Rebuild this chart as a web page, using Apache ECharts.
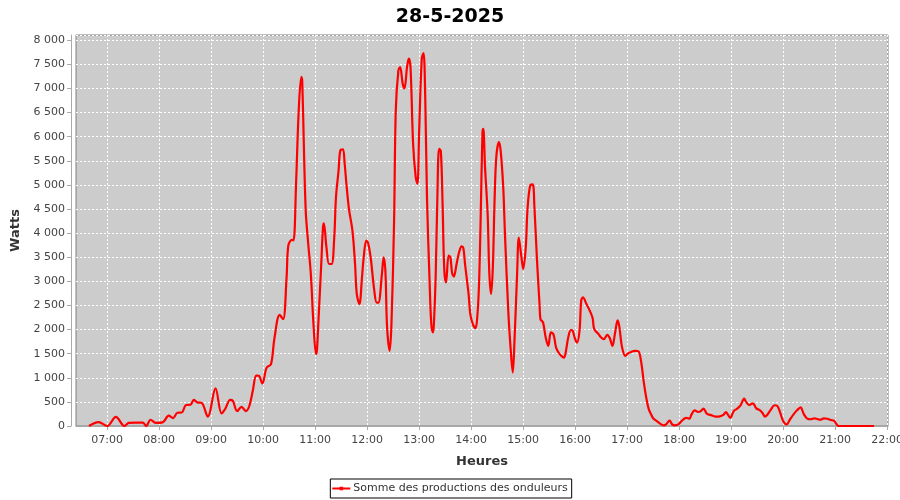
<!DOCTYPE html>
<html>
<head>
<meta charset="utf-8">
<script src="https://cdn.jsdelivr.net/npm/echarts@6/dist/echarts.min.js"></script>
<style>
html,body{margin:0;padding:0;background:#fff;}
#c{width:900px;height:500px;}
</style>
</head>
<body>
<div id="c"></div>
<script>
const title = "28-5-2025";
const seriesName = "Somme des productions des onduleurs";
const times = ["06:39","06:50","07:00","07:10","07:20","07:25","07:33","07:41","07:45","07:50","07:56","08:04","08:11","08:16","08:21","08:26","08:31","08:36","08:40","08:44","08:49","08:56","09:05","09:12","09:16","09:22","09:25","09:30","09:35","09:40","09:44","09:48","09:52","09:55","09:59","10:04","10:09","10:13","10:19","10:23","10:27","10:29","10:33","10:35","10:38","10:41","10:44","10:45","10:49","10:52","10:55","10:58","11:01","11:02","11:04","11:07","11:09","11:10","11:13","11:16","11:19","11:22","11:24","11:27","11:29","11:32","11:34","11:36","11:39","11:43","11:46","11:48","11:51","11:54","11:56","11:59","12:01","12:04","12:08","12:11","12:13","12:17","12:19","12:21","12:23","12:26","12:28","12:31","12:33","12:36","12:38","12:41","12:43","12:46","12:48","12:50","12:53","12:56","12:58","13:00","13:03","13:05","13:07","13:09","13:12","13:14","13:16","13:17","13:19","13:21","13:23","13:25","13:27","13:29","13:31","13:34","13:36","13:38","13:40","13:43","13:46","13:49","13:51","13:53","13:57","13:59","14:02","14:05","14:07","14:09","14:11","14:13","14:14","14:16","14:19","14:21","14:23","14:25","14:27","14:29","14:32","14:34","14:37","14:39","14:43","14:46","14:48","14:50","14:53","14:55","14:58","15:00","15:03","15:05","15:08","15:11","15:13","15:16","15:19","15:20","15:23","15:26","15:29","15:32","15:35","15:38","15:41","15:44","15:47","15:49","15:52","15:55","15:57","16:00","16:02","16:05","16:07","16:09","16:13","16:16","16:20","16:22","16:27","16:30","16:33","16:37","16:40","16:43","16:46","16:49","16:51","16:54","16:58","17:01","17:05","17:09","17:13","17:16","17:19","17:22","17:25","17:28","17:30","17:34","17:38","17:42","17:45","17:49","17:52","17:55","17:59","18:03","18:08","18:12","18:14","18:18","18:22","18:25","18:28","18:32","18:36","18:42","18:47","18:51","18:54","18:56","18:59","19:03","19:07","19:11","19:15","19:17","19:21","19:25","19:29","19:33","19:36","19:39","19:42","19:46","19:50","19:53","19:56","20:00","20:04","20:08","20:12","20:16","20:20","20:24","20:28","20:32","20:36","20:40","20:43","20:47","20:51","20:55","20:59","21:01","21:04","21:15","21:25","21:35","21:45"];
const watts = [0,80,0,190,0,65,70,70,0,130,65,75,215,165,275,280,435,440,540,490,480,195,780,260,350,540,520,310,395,310,415,730,1045,1040,880,1210,1280,1820,2305,2215,3080,3740,3860,3850,5055,6545,7240,7170,4500,3775,3150,2120,1490,1560,2260,3360,4120,4205,3705,3360,3360,3910,4745,5300,5715,5740,5450,5030,4500,4050,3360,2740,2530,3080,3500,3845,3800,3500,2840,2560,2560,3150,3500,3220,2040,1560,2110,4210,6545,7375,7445,7100,7000,7445,7620,7445,5855,5160,5020,6130,7620,7735,6820,4745,3010,2110,1940,2110,3080,4745,5750,5700,4610,3220,2980,3535,3500,3170,3100,3345,3600,3725,3690,3345,2740,2320,2110,2030,2250,2910,4330,6075,6165,5370,4400,3150,2740,3290,4675,5580,5890,5715,4950,3980,2320,1490,1110,1770,3150,3910,3500,3255,3705,4490,4985,5010,4535,3430,2495,2215,2145,1835,1660,1940,1900,1625,1520,1455,1420,1520,1835,1990,1980,1800,1730,1970,2600,2670,2530,2425,2250,2010,1905,1835,1800,1890,1820,1660,1925,2190,2060,1645,1455,1505,1540,1560,1550,1350,935,590,345,230,160,105,50,15,35,110,35,15,35,105,170,150,230,325,290,310,360,255,230,195,200,230,290,240,170,310,360,435,570,505,435,470,365,330,275,195,240,345,430,420,310,105,35,140,240,325,385,240,150,140,160,140,130,160,150,125,105,50,0,0,0,0,0];
const xTickLabels = ["07:00","08:00","09:00","10:00","11:00","12:00","13:00","14:00","15:00","16:00","17:00","18:00","19:00","20:00","21:00","22:00"];
const xAxisName = "Heures";
const yAxisName = "Watts";

function toMin(s){const p=s.split(':');return (+p[0])*60+(+p[1]);}
function fmtMin(m){const h=Math.floor(m/60),mm=Math.round(m%60);return (h<10?'0':'')+h+':'+(mm<10?'0':'')+mm;}
const data = times.map((t,i)=>[toMin(t), watts[i]]);
const tickVals = xTickLabels.map(toMin);

const chart = echarts.init(document.getElementById('c'), null, {renderer:'canvas'});
chart.setOption({
  animation:false,
  backgroundColor:'#ffffff',
  textStyle:{fontFamily:'DejaVu Sans'},
  title:{text:title,left:'center',top:3,textStyle:{fontSize:19,fontWeight:'bold',color:'#000',fontFamily:'DejaVu Sans'}},
  legend:{
    data:[{name:seriesName,icon:'path://M0,0h0.01v10h-0.01z M0,4h20v2h-20z M8,3h4v4h-4z'}],
    bottom:2, left:'center',
    borderColor:'#000', borderWidth:1, padding:[4,4,4,2],
    itemWidth:18, itemHeight:10, itemGap:2,
    textStyle:{fontSize:11,color:'#333',fontFamily:'DejaVu Sans',padding:[0,0,0,-2]}
  },
  grid:{left:76,right:12,top:35,bottom:74,show:true,backgroundColor:'#cccccc',borderColor:'#808080',borderWidth:1,outerBoundsMode:'none',containLabel:false},
  xAxis:{
    type:'value', min:384, max:1321,
    offset:4,
    name:xAxisName, nameLocation:'middle', nameGap:25,
    nameTextStyle:{fontSize:13,fontWeight:'bold',color:'#333',fontFamily:'DejaVu Sans'},
    axisLine:{show:true,lineStyle:{color:'#aaaaaa',width:1}},
    axisTick:{show:true,length:4,lineStyle:{color:'#aaaaaa'},customValues:tickVals},
    axisLabel:{customValues:tickVals,formatter:v=>fmtMin(v),fontSize:11,color:'#444',margin:5,fontFamily:'DejaVu Sans'},
    splitLine:{show:true,lineStyle:{color:'#ffffff',type:[2,2],width:1}}
  },
  yAxis:{
    type:'value', min:0, max:8110, interval:500,
    offset:5,
    name:yAxisName, nameLocation:'middle', nameGap:45, nameRotate:90,
    nameTextStyle:{fontSize:13,fontWeight:'bold',color:'#333',fontFamily:'DejaVu Sans'},
    axisLine:{show:true,lineStyle:{color:'#aaaaaa',width:1}},
    axisTick:{show:true,length:4,lineStyle:{color:'#aaaaaa'}},
    axisLabel:{showMaxLabel:false,fontSize:11,color:'#444',margin:6,fontFamily:'DejaVu Sans',
      formatter:v=>{ if(v%500!==0) return ''; return String(v).replace(/\B(?=(\d{3})+(?!\d))/g,' ');}},
    splitLine:{show:true,lineStyle:{color:'#ffffff',type:[2,2],width:1}}
  },
  series:[{
    name:seriesName, type:'line', data:data,
    smooth:0.35, showSymbol:false, symbol:'rect', symbolSize:3,
    lineStyle:{color:'#ff0000',width:2.2},
    itemStyle:{color:'#ff0000'},
    clip:true
  }]
});
</script>
</body>
</html>
